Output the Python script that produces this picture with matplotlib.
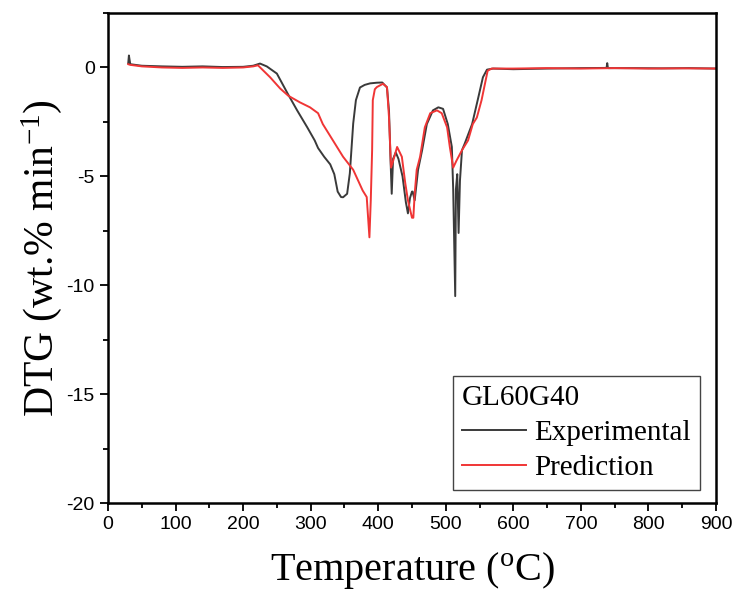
#!/usr/bin/env python3
import matplotlib
matplotlib.use("Agg")
import matplotlib.pyplot as plt
from matplotlib.ticker import MultipleLocator

# Experimental DTG curve (temperature in degC, DTG in wt.% / min)
exp_temp = [30, 31, 33, 50, 80, 110, 140, 170, 200, 215, 225, 235, 250, 266, 280,
            295, 306, 311, 320, 329, 335, 340, 345, 348, 354, 358, 363, 367, 373,
            380, 388, 398, 406, 413, 416, 418, 420, 422, 426, 430, 436, 441, 444,
            447, 450, 451, 454, 459, 465, 472, 481, 489, 496, 503, 509, 511, 514,
            515, 517, 519, 521, 524, 528, 539, 548, 555, 561, 570, 600, 650, 700,
            738, 739, 740, 741, 780, 820, 860, 900]
exp_dtg = [0.2, 0.55, 0.15, 0.08, 0.05, 0.03, 0.05, 0.02, 0.03, 0.08, 0.18, 0.05,
           -0.28, -1.2, -1.97, -2.75, -3.35, -3.7, -4.1, -4.45, -4.9, -5.7, -5.95,
           -5.96, -5.8, -4.86, -2.57, -1.5, -0.92, -0.8, -0.73, -0.7, -0.69, -0.92,
           -2.0, -4.0, -5.8, -4.2, -3.9, -4.2, -5.0, -6.2, -6.7, -6.0, -5.7, -5.7,
           -6.1, -4.7, -3.8, -2.6, -1.97, -1.83, -1.9, -2.6, -3.65, -5.6, -10.5,
           -5.6, -4.9, -7.6, -5.2, -3.8, -3.5, -2.6, -1.4, -0.45, -0.1, -0.05,
           -0.08, -0.05, -0.03, -0.02, 0.2, -0.02, -0.03, -0.03, -0.04, -0.03, -0.05]

# Model prediction
pred_temp = [30, 33, 50, 80, 110, 140, 170, 200, 215, 222, 240, 255, 267, 284, 299,
             311, 318, 333, 348, 363, 377, 383, 387, 389, 391, 392, 395, 398, 407,
             413, 416, 419, 422, 428, 435, 440, 444, 450, 452, 454, 457, 462, 469,
             477, 487, 494, 502, 506, 511, 516, 524, 533, 540, 546, 553, 558, 562,
             568, 600, 650, 700, 750, 800, 850, 900]
pred_dtg = [0.15, 0.12, 0.05, 0.0, -0.02, 0.0, -0.02, 0.0, 0.05, 0.1, -0.45, -0.97,
            -1.3, -1.6, -1.83, -2.1, -2.6, -3.35, -4.1, -4.7, -5.65, -5.95, -7.8,
            -6.1, -3.8, -1.5, -1.0, -0.9, -0.75, -0.9, -2.3, -4.6, -4.3, -3.65,
            -4.1, -5.3, -6.1, -6.9, -6.9, -5.8, -4.7, -4.1, -2.75, -2.1, -1.97,
            -2.1, -2.75, -3.65, -4.6, -4.27, -3.8, -3.35, -2.6, -2.3, -1.5, -0.75,
            -0.15, -0.05, -0.05, -0.03, -0.05, -0.03, -0.05, -0.04, -0.05]

plt.rcParams["axes.unicode_minus"] = False
plt.rcParams["mathtext.fontset"] = "custom"
plt.rcParams["mathtext.rm"] = "Liberation Serif"
plt.rcParams["mathtext.it"] = "Liberation Serif:italic"

tick_family = ["Liberation Sans Narrow", "Liberation Sans"]
serif = ["Liberation Serif", "DejaVu Serif"]

fig = plt.figure(figsize=(7.37, 6.03), dpi=100)
ax = fig.add_axes([0.1465, 0.1658, 0.825, 0.8126])

ax.plot(exp_temp, exp_dtg, color="#3a3a3a", linewidth=1.4, label="Experimental")
ax.plot(pred_temp, pred_dtg, color="#f03535", linewidth=1.4, label="Prediction")

ax.set_xlim(0, 900)
ax.set_ylim(-20, 2.5)
ax.xaxis.set_major_locator(MultipleLocator(100))
ax.xaxis.set_minor_locator(MultipleLocator(50))
ax.yaxis.set_major_locator(MultipleLocator(5))
ax.yaxis.set_minor_locator(MultipleLocator(2.5))
ax.tick_params(which="both", direction="out", width=1.3, top=False, right=False)
ax.tick_params(which="major", length=6)
ax.tick_params(which="minor", length=3.5)
for lab in ax.get_xticklabels() + ax.get_yticklabels():
    lab.set_fontfamily(tick_family)
    lab.set_fontsize(14)
for side in ax.spines.values():
    side.set_linewidth(1.8)

ax.set_xlabel(r"Temperature ($^{\mathrm{o}}$C)", fontfamily=serif, fontsize=29, labelpad=12)
ax.set_ylabel(r"DTG (wt.% min$^{\mathrm{-1}}$)", fontfamily=serif, fontsize=30)
ax.yaxis.set_label_coords(-0.072, 0.5)

leg = ax.legend(title="GL60G40", loc="lower right", bbox_to_anchor=(0.9737, 0.0265),
                borderaxespad=0, fancybox=False, framealpha=1, edgecolor="#444444",
                prop={"family": serif, "size": 21}, title_fontproperties={"family": serif, "size": 21},
                alignment="left", handlelength=2.2, handletextpad=0.3, labelspacing=0.3,
                borderpad=0.3)
leg.get_frame().set_linewidth(1.0)

fig.savefig("out.png", dpi=100)
